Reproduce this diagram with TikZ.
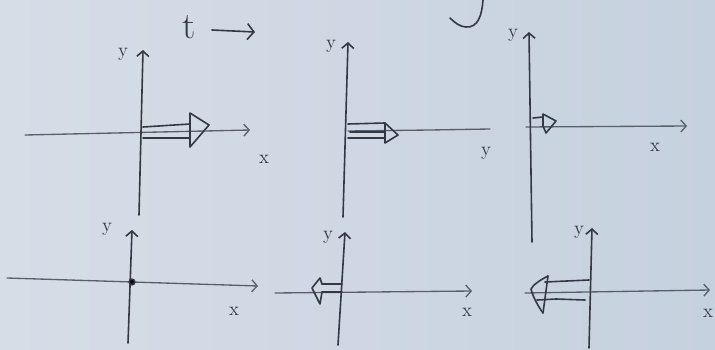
\documentclass[tikz,border=0pt]{standalone}
\usetikzlibrary{arrows.meta}
\definecolor{paperL}{RGB}{214,221,231}
\definecolor{paperR}{RGB}{198,209,223}
\definecolor{ink}{RGB}{52,56,66}
\definecolor{axisink}{RGB}{90,96,106}
\tikzset{
  ink/.style={draw=ink, line width=1.2pt, line cap=round, line join=round},
  axisline/.style={draw=axisink, line width=1.0pt, line cap=round},
  yaxis/.style={ink, -{Straight Barb[length=4pt,width=9pt]}},
  xaxis/.style={axisline, -{Straight Barb[length=4pt,width=9pt]}},
  lbl/.style={text=ink, font=\Large, inner sep=0pt},
}
\begin{document}
\begin{tikzpicture}[x=0.75pt, y=-0.75pt]
\fill[left color=paperL, right color=paperR] (0,0) rectangle (715,350);
\useasboundingbox (0,0) rectangle (715,350);

% time label
\node[text=ink, font=\fontsize{28}{30}\selectfont, inner sep=0pt] (t) at (189,27) {t};
\coordinate (tend) at (255,32);
\draw[ink, -{Straight Barb[length=5pt,width=12pt]}] (212,30) -- (tend);

% fragment of curve at top
\draw[ink] (483,0) .. controls (482,15) and (478,28) .. (466,27) .. controls (460,27) and (454,22) .. (450,18);

% ---------- Panel 1 ----------
\draw[xaxis] (25,135) -- (250,130);
\draw[yaxis] (139,215) -- (143,50);
\node[lbl] (p1y) at (123,54) {y};
\node[lbl] (p1x) at (264,159) {x};
\draw[ink] (143,127) -- (190,124);
\draw[ink] (143,138) -- (190,138);
\draw[ink] (190,113) -- (209,125) -- (190,147) -- cycle;

% ---------- Panel 2 ----------
\draw[axisline] (348,131) -- (430,130) -- (490,129);
\draw[yaxis] (343,217) -- (348,42);
\node[lbl] (p2y) at (331,46) {y};
\node[lbl] (p2x) at (486,153) {y};
\draw[ink] (348,124) -- (385,123);
\draw[ink] (350,132) -- (385,132);
\draw[ink] (348,138) -- (385,138);
\draw[ink] (385,123) -- (398,135) -- (385,143) -- cycle;

% ---------- Panel 3 ----------
\draw[xaxis] (526,127) -- (687,126);
\draw[yaxis] (532,242) -- (529,32);
\node[lbl] (p3y) at (513,35) {y};
\node[lbl] (p3x) at (655,147) {x};
\draw[ink] (533,118) -- (543,117);
\draw[ink] (543,114) -- (556,121) -- (546,133) -- (543,126) -- cycle;

% ---------- Panel 4 ----------
\draw[xaxis] (7,278) -- (258,286);
\draw[yaxis] (128,343) -- (132,230);
\node[lbl] (p4y) at (107,229) {y};
\node[lbl] (p4x) at (234,311) {x};
\fill[ink] (132,282) circle (2.8);

% ---------- Panel 5 ----------
\draw[xaxis] (275,293) -- (472,291);
\draw[yaxis] (338,345) -- (345,232);
\node[lbl] (p5y) at (328,237) {y};
\node[lbl] (p5x) at (467,312) {x};
\draw[ink] (342,284) -- (322,284);
\draw[ink] (342,292) -- (322,292);
\draw[ink] (322,284) -- (320,278) -- (312,288) -- (320,304) -- (322,292);

% ---------- Panel 6 ----------
\draw[xaxis] (525,293) -- (710,290);
\draw[yaxis] (589,348) -- (592,228);
\node[lbl] (p6y) at (579,232) {y};
\node[lbl] (p6x) at (708,313) {x};
\draw[ink] (545,282) -- (589,280);
\draw[ink] (537,300) -- (556,299) -- (585,300);
\draw[ink] (548,276) -- (543,313);
\draw[ink] (548,276) .. controls (540,280) and (533,285) .. (531,289) .. controls (533,297) and (538,306) .. (543,313);
\end{tikzpicture}
\end{document}
